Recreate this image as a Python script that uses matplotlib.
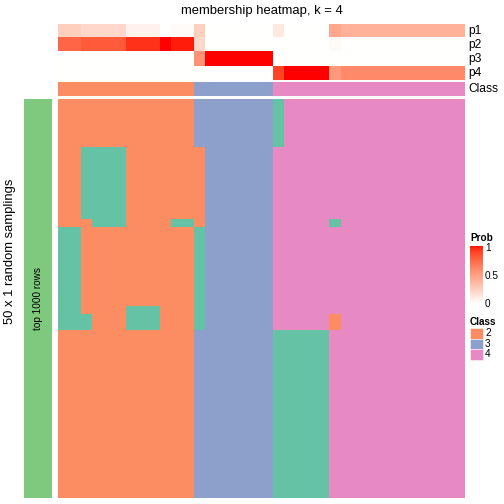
import numpy as np
import matplotlib.pyplot as plt
from matplotlib.colors import ListedColormap

plt.rcParams['font.family'] = ['Liberation Sans', 'DejaVu Sans']

# membership probabilities per column (36 columns)
p1 = [0.25, 0.25, 0.2, 0.2, 0.2, 0.2, 0.07, 0.07, 0.07, 0.0, 0.02, 0.02,
      0.25, 0, 0, 0, 0, 0, 0,
      0.12, 0, 0, 0, 0, 0.45, 0.4, 0.4, 0.4, 0.4, 0.4, 0.4, 0.4, 0.4, 0.4, 0.4, 0.4]
p2 = [0.75, 0.75, 0.8, 0.8, 0.8, 0.8, 0.93, 0.93, 0.93, 1.0, 0.97, 0.97,
      0.2, 0, 0, 0, 0, 0, 0,
      0, 0, 0, 0, 0, 0.03, 0, 0, 0, 0, 0, 0, 0, 0, 0, 0, 0]
p3 = [0, 0, 0, 0, 0, 0, 0, 0, 0, 0, 0, 0,
      0.55, 1, 1, 1, 1, 1, 1,
      0, 0, 0, 0, 0, 0, 0, 0, 0, 0, 0, 0, 0, 0, 0, 0, 0]
p4 = [0, 0, 0, 0, 0, 0, 0, 0, 0, 0, 0, 0,
      0, 0, 0, 0, 0, 0, 0,
      0.88, 1, 1, 1, 1, 0.52, 0.6, 0.6, 0.6, 0.6, 0.6, 0.6, 0.6, 0.6, 0.6, 0.6, 0.6]
class_row = "222222222222" + "3333333" + "44444444444444444"

# class calls of the 50 random samplings (repeat count, row)
sampling_rows = [
    (6,  "222222222222" "3333333" "1" "4444444444444444"),
    (9,  "22" "1111" "222222" "2" "333333" "44444444444444444"),
    (1,  "222" "111" "2222" "11" "2" "333333" "44444" "1" "44444444444"),
    (10, "11" "2222222222" "1" "333333" "44444444444444444"),
    (1,  "11" "2222" "111" "222" "1" "333333" "44444444444444444"),
    (2,  "111" "222" "111" "222" "1" "333333" "44444" "2" "44444444444"),
    (21, "222222222222" "3333333" "11111" "444444444444"),
]

class_colors = ['#66C2A5', '#FC8D62', '#8DA0CB', '#E78AC3']
legend_classes = ['2', '3', '4']
prob_ticks = [0, 0.5, 1]


def lab_to_rgb(L, a, b):
    fy = (L + 16) / 116
    fx = fy + a / 500
    fz = fy - b / 200

    def finv(t):
        return np.where(t > 6 / 29, t ** 3, 3 * (6 / 29) ** 2 * (t - 4 / 29))
    X = 0.95047 * finv(fx)
    Y = finv(fy)
    Z = 1.08883 * finv(fz)
    r = 3.2406 * X - 1.5372 * Y - 0.4986 * Z
    g = -0.9689 * X + 1.8758 * Y + 0.0415 * Z
    bb = 0.0557 * X - 0.2040 * Y + 1.0570 * Z
    rgb = np.stack([r, g, bb], axis=-1)
    rgb = np.where(rgb <= 0.0031308, 12.92 * rgb, 1.055 * np.abs(rgb) ** (1 / 2.4) - 0.055)
    return np.clip(rgb, 0, 1)


# white -> red interpolated in LAB space
t = np.linspace(0, 1, 256)
prob_cmap = ListedColormap(lab_to_rgb(100 + t * (53.24 - 100), t * 80.09, t * 67.20))
class_cmap = ListedColormap(class_colors)

W = H = 504
fig = plt.figure(figsize=(7, 7), dpi=72)


def px_axes(x0, y0, x1, y1):
    ax = fig.add_axes([x0 / W, 1 - y1 / H, (x1 - x0) / W, (y1 - y0) / H])
    ax.set_xticks([])
    ax.set_yticks([])
    for s in ax.spines.values():
        s.set_visible(False)
    return ax


HX0, HX1 = 58, 465

# probability rows
ax = px_axes(HX0, 24, HX1, 80.3)
ax.imshow(np.array([p1, p2, p3, p4]), cmap=prob_cmap, vmin=0, vmax=1,
          aspect='auto', interpolation='nearest')

# class row
ax = px_axes(HX0, 81.7, HX1, 95.7)
ax.imshow(np.array([[int(c) for c in class_row]]), cmap=class_cmap, vmin=1, vmax=4,
          aspect='auto', interpolation='nearest')

# main heatmap
mat = np.array([[int(c) for c in row] for n, row in sampling_rows for _ in range(n)])
ax = px_axes(HX0, 99, HX1, 498)
ax.imshow(mat, cmap=class_cmap, vmin=1, vmax=4, aspect='auto', interpolation='nearest')

# left annotation bar
ax = px_axes(24, 99, 52.3, 498)
ax.set_facecolor('#7FC97F')
ax.text(0.5, 0.5, 'top 1000 rows', rotation=90, ha='center', va='center',
        fontsize=10, transform=ax.transAxes)

# overlay for texts and legends, pixel coordinates
ov = fig.add_axes([0, 0, 1, 1])
ov.set_xlim(0, W)
ov.set_ylim(H, 0)
ov.axis('off')

ov.text((HX0 + HX1) / 2, 11, 'membership heatmap, k = 4', ha='center', va='center', fontsize=13)
ov.text(10, 251, '50 x 1 random samplings', rotation=90, ha='center', va='center', fontsize=13)
for name, yc in zip(['p1', 'p2', 'p3', 'p4', 'Class'], [31, 45, 59, 73, 88.7]):
    ov.text(468, yc, name, ha='left', va='center', fontsize=12)

# Prob legend
ov.text(470, 238, 'Prob', ha='left', va='center', fontsize=10, fontweight='bold')
cb = px_axes(470, 246, 482.7, 304)
cb.imshow(np.linspace(1, 0, 100)[:, None], cmap=prob_cmap, vmin=0, vmax=1,
          aspect='auto', extent=[0, 1, 0, 1])
for v in prob_ticks:
    yy = 304 - v * 56
    ov.text(485, yy, f'{v:g}', ha='left', va='center', fontsize=10)
    if v > 0:
        ov.plot([470, 472.5], [yy, yy], color='white', lw=0.8)
        ov.plot([480.2, 482.7], [yy, yy], color='white', lw=0.8)

# Class legend
ov.text(470, 322, 'Class', ha='left', va='center', fontsize=10, fontweight='bold')
for i, lab in enumerate(legend_classes):
    y0 = 328 + i * 10.5
    ov.add_patch(plt.Rectangle((470, y0), 12.7, 10.5, facecolor=class_colors[int(lab) - 1],
                               edgecolor='white', lw=0.5))
    ov.text(485, y0 + 5.25, lab, ha='left', va='center', fontsize=10)

fig.savefig('out.png', dpi=72)
